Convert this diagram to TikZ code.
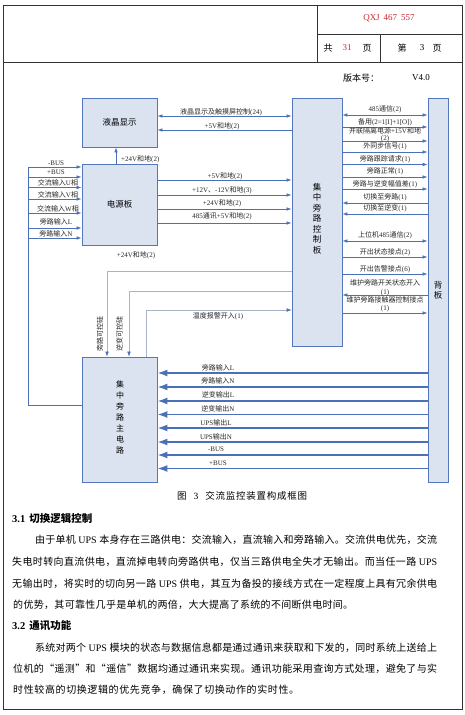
\documentclass[tikz,border=0pt]{standalone}
\usepackage{fontspec}
\setmainfont{Liberation Serif}
\newfontfamily\cjkfam{Noto Sans CJK SC}
\usetikzlibrary{arrows.meta}
\definecolor{boxfill}{RGB}{219,227,241}
\definecolor{boxblue}{RGB}{84,118,186}
\definecolor{lineblue}{RGB}{74,112,184}
\definecolor{thinline}{RGB}{170,180,200}
\definecolor{hdrred}{RGB}{205,40,45}
\definecolor{labeltext}{RGB}{40,40,40}
\newXeTeXintercharclass\CJKcls
\newcount\cjkcnt
\def\setclsrange#1#2#3{\cjkcnt=#1\relax\loop\ifnum\cjkcnt<#2\relax\XeTeXcharclass\cjkcnt=#3\relax\advance\cjkcnt by 1\relax\repeat}
\setclsrange{"21}{"7F}{0}
\setclsrange{"4E00}{"A000}{\CJKcls}
\setclsrange{"3000}{"3040}{\CJKcls}
\setclsrange{"FF00}{"FFF0}{\CJKcls}
\setclsrange{"2018}{"201A}{\CJKcls}
\setclsrange{"201C}{"201E}{\CJKcls}
\def\cjkglue{}
\XeTeXinterchartoks 0 \CJKcls = {\cjkfam}
\XeTeXinterchartoks 4095 \CJKcls = {\cjkfam}
\XeTeXinterchartoks \CJKcls 0 = {\rmfamily}
\XeTeXinterchartoks \CJKcls 4095 = {\rmfamily}
\XeTeXinterchartoks \CJKcls \CJKcls = {\cjkglue}
\XeTeXinterchartokenstate=1
\newcommand\jline[2]{{\def\cjkglue{\hskip 0pt plus 1fil}\makebox[#1][s]{#2}}}
\begin{document}
\begin{tikzpicture}[x=1pt,y=-1pt,
  >={Latex[length=5pt,width=3.6pt]},
  frame/.style={draw=black!80,line width=0.8pt},
  conn/.style={draw=lineblue,line width=0.7pt},
  thinc/.style={draw=thinline,line width=0.5pt,arrows={-Latex[length=5pt,width=3.6pt,color=lineblue]}},
  power/.style={draw=lineblue,line width=1.6pt,arrows={-Latex[length=10pt,width=7pt]}},
  lbl/.style={font=\fontsize{7}{8}\selectfont,inner sep=0pt,text=labeltext},
  box/.style={draw=boxblue,fill=boxfill,line width=0.8pt,rectangle,inner sep=0pt,font=\fontsize{8.5}{10}\selectfont},
  vtext/.style={align=center,inner sep=0pt,font=\fontsize{8.5}{10.5}\selectfont},
  body/.style={inner sep=0pt,anchor=west,font=\fontsize{10}{12}\selectfont},
  head/.style={inner sep=0pt,font=\fontsize{9}{11}\selectfont}]
\useasboundingbox (0,0) rectangle (465,715);
\fill[white] (0,0) rectangle (465,715);
% page frame and header
\draw[frame] (3,5) rectangle (462,709);
\draw[frame] (3,62) -- (462,62);
\draw[frame] (317,5) -- (317,62);
\draw[frame] (317,34) -- (462,34);
\draw[frame] (380,34) -- (380,62);
\node[head,text=hdrred] (docno) at (389,18) {QXJ\hspace{4pt}467\hspace{4pt}557};
\node[head] (gong) at (328,48) {共};
\node[head,text=hdrred] (tot) at (347,48) {31};
\node[head] (ye1) at (367,48) {页};
\node[head] (di) at (402,48) {第};
\node[head] (cur) at (422,48) {3};
\node[head] (ye2) at (437,48) {页};
\node[head] (ver) at (361,78) {版本号：};
\node[head] (vernum) at (421,78) {V4.0};
% boxes
\node[box,minimum width=75pt,minimum height=49pt] (lcd) at (119.5,122.5) {液晶显示};
\node[box,minimum width=75pt,minimum height=81pt] (pwr) at (119.5,204.5) {电源板};
\node[box,minimum width=50pt,minimum height=248pt] (ctl) at (317,222) {};
\node[vtext] (ctltxt) at (317,218.5) {集\\中\\旁\\路\\控\\制\\板};
\node[box,minimum width=20pt,minimum height=384pt] (bp) at (438,290) {};
\node[vtext] (bptxt) at (438,290.5) {背\\板};
\node[box,minimum width=75pt,minimum height=125pt] (mc) at (119.5,419.5) {};
\node[vtext,font=\fontsize{8}{11}\selectfont] (mctxt) at (120,417.5) {集\\中\\旁\\路\\主\\电\\路};
% lcd <-> control board
\draw[conn,<->] (lcd.east |- 0,116) -- (ctl.west |- 0,116);
\node[lbl] (t1) at (221,112) {液晶显示及触摸屏控制(24)};
\draw[conn,->] (ctl.west |- 0,130) -- (lcd.east |- 0,130);
\node[lbl] (t2) at (222,126) {+5V和地(2)};
\draw[conn,->] (pwr.north -| 116,0) -- (lcd.south -| 116,0);
\node[lbl,anchor=west] (t3) at (121,159) {+24V和地(2)};
% power board -> control board
\draw[conn,->] (pwr.east |- 0,180) -- (ctl.west |- 0,180);
\node[lbl] (t4) at (225,176) {+5V和地(2)};
\draw[conn,->] (pwr.east |- 0,195) -- (ctl.west |- 0,195);
\node[lbl] (t5) at (222,190) {+12V、-12V和地(3)};
\draw[conn,->] (pwr.east |- 0,209) -- (ctl.west |- 0,209);
\node[lbl] (t6) at (222,203.5) {+24V和地(2)};
\draw[conn,->] (pwr.east |- 0,223) -- (ctl.west |- 0,223);
\node[lbl] (t7) at (222,216.5) {485通讯+5V和地(2)};
\node[lbl] (t8) at (136,255.5) {+24V和地(2)};
% left inputs
\coordinate (busT) at (28,167);
\coordinate (busB) at (28,405);
\draw[conn] (busT) -- (busB) -- (mc.west |- busB);
\draw[conn,->] (busT) -- (pwr.west |- busT);
\node[lbl] (i1) at (56,163) {-BUS};
\draw[conn,->] (busT |- 0,177) -- (pwr.west |- 0,177);
\node[lbl] (i2) at (56,172.5) {+BUS};
\draw[conn,->] (busT |- 0,187.5) -- (pwr.west |- 0,187.5);
\node[lbl] (i3) at (58,183) {交流输入U相};
\draw[conn,->] (busT |- 0,199) -- (pwr.west |- 0,199);
\node[lbl] (i4) at (58,195) {交流输入V相};
\draw[conn,->] (busT |- 0,213) -- (pwr.west |- 0,213);
\node[lbl] (i5) at (58,208.5) {交流输入W相};
\draw[conn,->] (busT |- 0,228) -- (pwr.west |- 0,228);
\node[lbl] (i6) at (56,222) {旁路输入L};
\draw[conn,->] (busT |- 0,238) -- (pwr.west |- 0,238);
\node[lbl] (i7) at (56,234) {旁路输入N};
% thin control lines to main circuit
\draw[thinc] (ctl.west |- 0,271) -| (107,0 |- mc.north);
\draw[thinc] (ctl.west |- 0,291) -| (129,0 |- mc.north);
\draw[thinc] (146,0 |- mc.north) |- (ctl.west |- 0,310);
\node[lbl,rotate=90] (v1) at (100,334) {旁路可控硅};
\node[lbl,rotate=90] (v2) at (119.5,334) {逆变可控硅};
\node[lbl] (t9) at (218,316) {温度报警开入(1)};
% control board <-> backplane
\draw[conn,<->] (ctl.east |- 0,115) -- (bp.west |- 0,115);
\node[lbl] (r1) at (385,109) {485通信(2)};
\draw[conn,->] (ctl.east |- 0,127) -- (bp.west |- 0,127);
\node[lbl] (r2) at (385,122) {备用(2=1[I]+1[O])};
\draw[conn,->] (ctl.east |- 0,141) -- (bp.west |- 0,141);
\node[lbl,align=center,font=\fontsize{7}{7}\selectfont] (r3) at (385,134.5) {并联隔离电源+15V和地\\(2)};
\draw[conn,->] (ctl.east |- 0,152) -- (bp.west |- 0,152);
\node[lbl] (r4) at (385,146.5) {外同步信号(1)};
\draw[conn,->] (ctl.east |- 0,164.5) -- (bp.west |- 0,164.5);
\node[lbl] (r5) at (385,159) {旁路跟踪请求(1)};
\draw[conn,->] (ctl.east |- 0,177) -- (bp.west |- 0,177);
\node[lbl] (r6) at (385,171) {旁路正常(1)};
\draw[conn,->] (ctl.east |- 0,189) -- (bp.west |- 0,189);
\node[lbl] (r7) at (385,184) {旁路与逆变幅值差(1)};
\draw[conn,->] (bp.west |- 0,203) -- (ctl.east |- 0,203);
\node[lbl] (r8) at (385,197) {切换至旁路(1)};
\draw[conn,->] (bp.west |- 0,214) -- (ctl.east |- 0,214);
\node[lbl] (r9) at (385,208.5) {切换至逆变(1)};
\draw[conn,<->] (ctl.east |- 0,241) -- (bp.west |- 0,241);
\node[lbl] (r10) at (385,235) {上位机485通信(2)};
\draw[conn,->] (ctl.east |- 0,257) -- (bp.west |- 0,257);
\node[lbl] (r11) at (385,252) {开出状态接点(2)};
\draw[conn,->] (ctl.east |- 0,274) -- (bp.west |- 0,274);
\node[lbl] (r12) at (385,269) {开出告警接点(6)};
\draw[conn,->] (bp.west |- 0,295) -- (ctl.east |- 0,295);
\node[lbl,align=center,font=\fontsize{7}{9}\selectfont] (r13) at (385,287.5) {维护旁路开关状态开入\\(1)};
\draw[conn,->] (ctl.east |- 0,313) -- (bp.west |- 0,313);
\node[lbl,align=center,font=\fontsize{7}{7.5}\selectfont] (r14) at (385,304.5) {维护旁路接触器控制接点\\(1)};
% backplane -> main circuit (power lines)
\draw[power] (bp.west |- 0,373) -- (mc.east |- 0,373);
\node[lbl] (b1) at (218,368) {旁路输入L};
\draw[power] (bp.west |- 0,387) -- (mc.east |- 0,387);
\node[lbl] (b2) at (218,381) {旁路输入N};
\draw[power] (bp.west |- 0,401) -- (mc.east |- 0,401);
\node[lbl] (b3) at (218,394.5) {逆变输出L};
\draw[power] (bp.west |- 0,414.5) -- (mc.east |- 0,414.5);
\node[lbl] (b4) at (218,409) {逆变输出N};
\draw[power] (bp.west |- 0,428) -- (mc.east |- 0,428);
\node[lbl] (b5) at (216,422.5) {UPS输出L};
\draw[power] (bp.west |- 0,442) -- (mc.east |- 0,442);
\node[lbl] (b6) at (216,436.5) {UPS输出N};
\draw[power] (bp.west |- 0,455) -- (mc.east |- 0,455);
\node[lbl] (b7) at (216,449.5) {-BUS};
\draw[power] (bp.west |- 0,468.5) -- (mc.east |- 0,468.5);
\node[lbl] (b8) at (218,463) {+BUS};
% caption and text
\node[body,font=\fontsize{9.5}{11}\selectfont] (cap) at (177,496) {\jline{130pt}{图\hspace{7pt}3\hspace{7pt}交流监控装置构成框图}};
\node[body,font=\fontsize{10.5}{12}\selectfont\bfseries] (h31) at (12,519) {3.1\hspace{4pt}切换逻辑控制};
\node[body] (p1) at (35,540) {\jline{402pt}{由于单机 UPS 本身存在三路供电：交流输入，直流输入和旁路输入。交流供电优先，交流}};
\node[body] (p2) at (12,562) {\jline{425pt}{失电时转向直流供电，直流掉电转向旁路供电，仅当三路供电全失才无输出。而当任一路 UPS}};
\node[body] (p3) at (12,583.5) {\jline{425pt}{无输出时，将实时的切向另一路 UPS 供电，其互为备投的接线方式在一定程度上具有冗余供电}};
\node[body] (p4) at (13,605) {\jline{340pt}{的优势，其可靠性几乎是单机的两倍，大大提高了系统的不间断供电时间。}};
\node[body,font=\fontsize{10.5}{12}\selectfont\bfseries] (h32) at (12,626) {3.2\hspace{4pt}通讯功能};
\node[body] (q1) at (35,647.5) {\jline{402pt}{系统对两个 UPS 模块的状态与数据信息都是通过通讯来获取和下发的，同时系统上送给上}};
\node[body] (q2) at (13,669) {\jline{424pt}{位机的“遥测”和“遥信”数据均通过通讯来实现。通讯功能采用查询方式处理，避免了与实}};
\node[body] (q3) at (13,690) {\jline{286pt}{时性较高的切换逻辑的优先竞争，确保了切换动作的实时性。}};
\end{tikzpicture}
\end{document}
